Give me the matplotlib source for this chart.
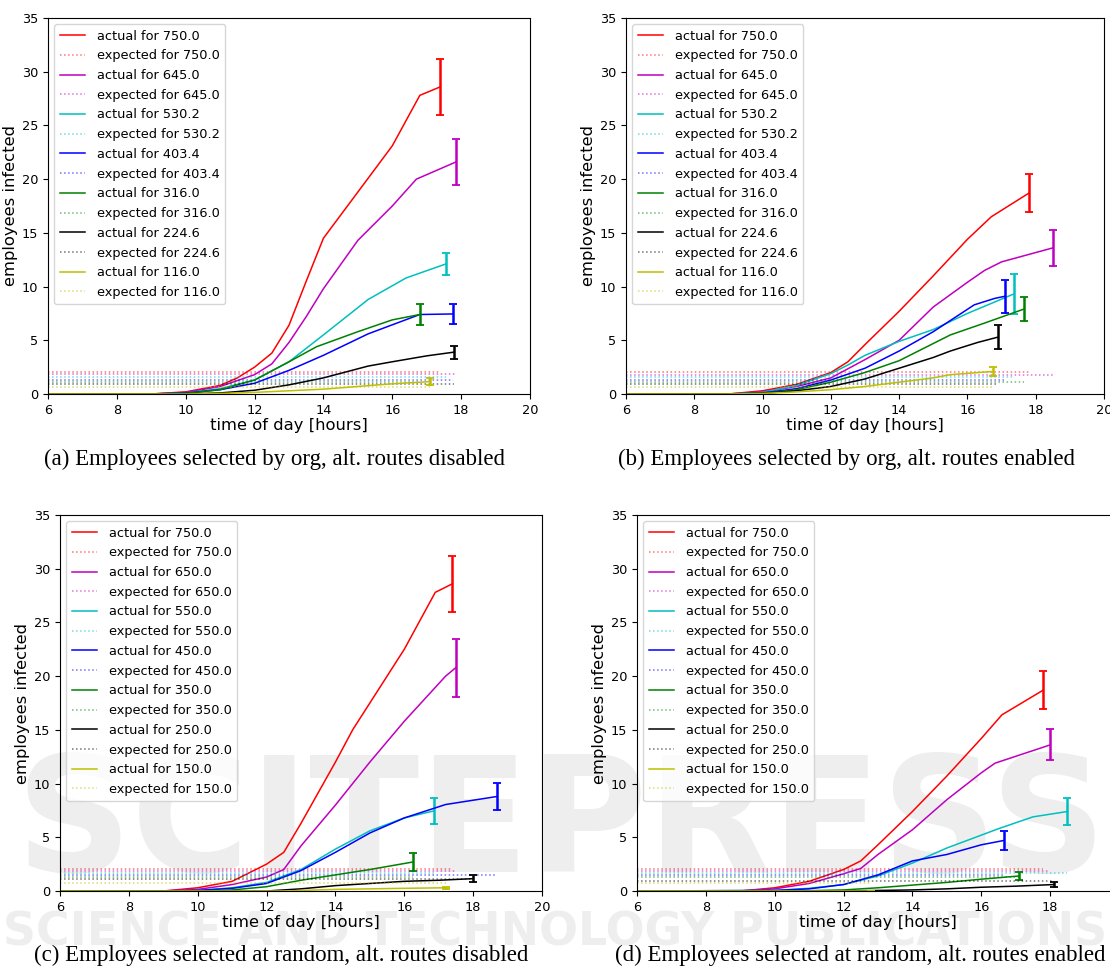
import numpy as np
import matplotlib.pyplot as plt

colors = ['r', 'm', 'c', 'b', 'g', 'k', 'y']

# (a) employees selected by org, alt. routes disabled
a_labels = ['750.0', '645.0', '530.2', '403.4', '316.0', '224.6', '116.0']
a_hours = [
    [6, 9, 10, 11, 11.5, 12, 12.5, 13, 13.5, 14, 15, 16, 16.8, 17.4],
    [6, 9, 10, 11, 12, 12.5, 13, 13.5, 14, 15, 16, 16.7, 17.85],
    [6, 9, 10, 11, 12, 13, 14, 15.3, 16.4, 17.55],
    [6, 9, 10, 11, 12, 13, 14, 15.3, 16.8, 17.75],
    [6, 9, 10, 11, 12, 13, 13.8, 15, 16, 16.8],
    [6, 10, 11, 12, 13, 14, 15.3, 16, 17, 17.8],
    [6, 10, 11, 12, 13, 14, 15, 16, 17.1],
]
a_actual = [
    [0, 0, 0.2, 0.8, 1.5, 2.5, 3.8, 6.4, 10.5, 14.5, 18.8, 23.1, 27.8, 28.6],
    [0, 0, 0.15, 0.7, 1.8, 2.8, 4.8, 7.2, 9.8, 14.3, 17.5, 20.0, 21.6],
    [0, 0, 0.1, 0.5, 1.3, 3.0, 5.5, 8.8, 10.8, 12.1],
    [0, 0, 0.1, 0.4, 1.0, 2.2, 3.6, 5.6, 7.4, 7.45],
    [0, 0, 0.05, 0.4, 1.3, 3.0, 4.4, 5.8, 6.9, 7.4],
    [0, 0, 0.1, 0.35, 0.85, 1.5, 2.6, 3.0, 3.55, 3.9],
    [0, 0, 0.05, 0.15, 0.3, 0.45, 0.7, 0.95, 1.15],
]
a_err = [2.6, 2.1, 1.05, 0.9, 1.0, 0.6, 0.3]
a_expected = [2.07, 1.83, 1.58, 1.30, 1.09, 0.90, 0.62]

# (b) employees selected by org, alt. routes enabled
b_labels = a_labels
b_hours = [
    [6, 9, 10, 11, 12, 12.5, 13, 14, 15, 16, 16.7, 17.8],
    [6, 9, 10, 11, 12, 13, 14, 15, 16, 16.5, 17, 18.5],
    [6, 9, 10, 11, 12, 12.5, 13, 14, 15, 16, 17.35],
    [6, 9, 10, 11, 12, 13, 14, 15, 16.2, 16.8, 17.1],
    [6, 9, 10, 11, 12, 13, 14, 15.5, 16.5, 17.65],
    [6, 9, 10, 11, 12, 13, 14, 15, 15.5, 16.3, 16.9],
    [6, 9, 10, 11, 12, 13, 14, 15, 15.5, 16.75],
]
b_actual = [
    [0, 0, 0.3, 0.9, 2.0, 3.0, 4.6, 7.7, 11.0, 14.4, 16.5, 18.7],
    [0, 0, 0.2, 0.7, 1.5, 3.2, 5.0, 8.1, 10.4, 11.5, 12.3, 13.6],
    [0, 0, 0.15, 0.8, 1.9, 2.7, 3.6, 4.9, 6.0, 7.5, 9.3],
    [0, 0, 0.1, 0.5, 1.3, 2.4, 4.0, 5.8, 8.3, 8.9, 9.1],
    [0, 0, 0.05, 0.4, 1.1, 2.0, 3.1, 5.5, 6.6, 7.9],
    [0, 0, 0.05, 0.3, 0.7, 1.4, 2.4, 3.4, 4.0, 4.8, 5.3],
    [0, 0, 0.05, 0.2, 0.4, 0.7, 1.1, 1.5, 1.8, 2.1],
]
b_err = [1.75, 1.65, 1.85, 1.55, 1.15, 1.1, 0.45]
b_expected = [2.07, 1.80, 1.58, 1.32, 1.09, 0.90, 0.68]

# (c) employees selected at random, alt. routes disabled
c_labels = ['750.0', '650.0', '550.0', '450.0', '350.0', '250.0', '150.0']
c_hours = [
    [6, 9, 10, 11, 12, 12.5, 13, 14, 14.5, 15, 16, 16.9, 17.4],
    [6, 9, 10, 11, 12, 12.5, 13, 14, 15, 16, 17.2, 17.5],
    [6, 9, 10, 11, 12, 13, 14, 15, 16, 16.85],
    [6, 9, 10, 11, 12, 13, 14, 15, 16, 17.2, 18.7],
    [6, 10, 11, 12, 13, 14, 15, 16.25],
    [6, 12, 13, 14, 15, 16, 17, 18],
    [6, 12.5, 13, 14, 15, 16, 17.2],
]
c_actual = [
    [0, 0, 0.3, 0.9, 2.5, 3.6, 6.3, 12.0, 15.0, 17.5, 22.5, 27.8, 28.6],
    [0, 0, 0.15, 0.6, 1.3, 2.0, 4.2, 8.0, 12.0, 15.8, 20.0, 20.8],
    [0, 0, 0.05, 0.3, 0.8, 2.0, 3.9, 5.6, 6.8, 7.45],
    [0, 0, 0.05, 0.25, 0.7, 1.9, 3.6, 5.4, 6.8, 8.05, 8.8],
    [0, 0, 0.1, 0.4, 1.0, 1.5, 2.0, 2.7],
    [0, 0, 0.2, 0.5, 0.7, 0.9, 1.0, 1.15],
    [0, 0, 0.05, 0.15, 0.2, 0.25, 0.3],
]
c_err = [2.6, 2.7, 1.2, 1.25, 0.8, 0.3, 0.08]
c_expected = [2.08, 1.86, 1.66, 1.45, 1.3, 1.12, 0.78]

# (d) employees selected at random, alt. routes enabled
d_labels = c_labels
d_hours = [
    [6, 9, 10, 11, 12, 12.5, 13, 14, 15, 16, 16.6, 17.8],
    [6, 9, 10, 11, 12, 12.5, 13, 14, 15, 16, 16.4, 18],
    [6, 10, 11, 12, 13, 14, 15, 15.5, 16.5, 17.5, 18.5],
    [6, 10, 11, 12, 13, 14, 15, 16, 16.65],
    [6, 11, 12, 13, 14, 15, 16, 17.1],
    [6, 12, 13, 14, 15, 16, 17, 18.1],
    [6, 12.8],
]
d_actual = [
    [0, 0, 0.3, 0.9, 2.0, 2.8, 4.3, 7.4, 10.7, 14.2, 16.4, 18.7],
    [0, 0, 0.2, 0.7, 1.6, 2.1, 3.4, 5.7, 8.5, 11.0, 11.9, 13.6],
    [0, 0.05, 0.25, 0.6, 1.4, 2.6, 4.0, 4.6, 5.8, 6.9, 7.4],
    [0, 0.05, 0.2, 0.6, 1.5, 2.8, 3.4, 4.3, 4.7],
    [0, 0.03, 0.1, 0.3, 0.55, 0.8, 1.1, 1.4],
    [0, 0, 0.05, 0.1, 0.2, 0.35, 0.45, 0.6],
    [0, 0],
]
d_err = [1.75, 1.45, 1.25, 0.85, 0.4, 0.2, 0.02]
d_expected = [2.08, 1.86, 1.66, 1.48, 1.3, 0.93, 0.78]

captions = [
    '(a) Employees selected by org, alt. routes disabled',
    '(b) Employees selected by org, alt. routes enabled',
    '(c) Employees selected at random, alt. routes disabled',
    '(d) Employees selected at random, alt. routes enabled',
]

W, H = 1110, 967


def px_axes(fig, left, top, right, bottom):
    return fig.add_axes([left / W, 1 - bottom / H, (right - left) / W, (bottom - top) / H])


def panel(ax, labels, hours, actual, err, expected):
    for i in range(len(labels)):
        x = np.array(hours[i])
        y = np.array(actual[i])
        ax.plot(x, y, color=colors[i], lw=1.1, label='actual for ' + labels[i])
        ax.plot([x[0], x[-1]], [expected[i], expected[i]], ':', color=colors[i],
                lw=1.1, alpha=0.55, label='expected for ' + labels[i])
        ax.errorbar(x[-1], y[-1], yerr=err[i], color=colors[i], elinewidth=1.8,
                    capsize=3, capthick=1.3)
    ax.set_xlim(6, 20)
    ax.set_ylim(0, 35)
    ax.set_xticks(range(6, 21, 2))
    ax.set_yticks(range(0, 36, 5))
    ax.tick_params(labelsize=9.3)
    ax.set_xlabel('time of day [hours]', fontsize=11.8, labelpad=1)
    ax.set_ylabel('employees infected', fontsize=11.8, labelpad=3)
    ax.set_facecolor('none')
    ax.legend(loc='upper left', fontsize=9.3, labelspacing=0.52, handletextpad=0.9)


fig = plt.figure(figsize=(W / 100, H / 100), dpi=100)

# faint publisher watermark behind the lower panels
fig.text(0.505, 0.098, 'SCITEPRESS', fontsize=116, fontweight='bold', color='#eeeeee',
         ha='center', va='baseline', zorder=-5)
fig.text(0.5, 0.022, 'SCIENCE AND TECHNOLOGY PUBLICATIONS', fontsize=33, fontweight='bold',
         color='#eeeeee', ha='center', va='baseline', zorder=-5)

ax_a = px_axes(fig, 48, 18, 530, 394)
ax_b = px_axes(fig, 626, 18, 1104, 394)
ax_c = px_axes(fig, 60, 515, 542, 891)
ax_d = px_axes(fig, 637, 515, 1119, 891)

panel(ax_a, a_labels, a_hours, a_actual, a_err, a_expected)
panel(ax_b, b_labels, b_hours, b_actual, b_err, b_expected)
panel(ax_c, c_labels, c_hours, c_actual, c_err, c_expected)
panel(ax_d, d_labels, d_hours, d_actual, d_err, d_expected)

cap_pos = [(275, 459), (846, 459), (281, 955), (860, 955)]
for txt, (cx, cy) in zip(captions, cap_pos):
    fig.text(cx / W, 1 - cy / H, txt, fontsize=16.5, family='Liberation Serif',
             ha='center', va='center')

fig.savefig('out.png', dpi=100)
